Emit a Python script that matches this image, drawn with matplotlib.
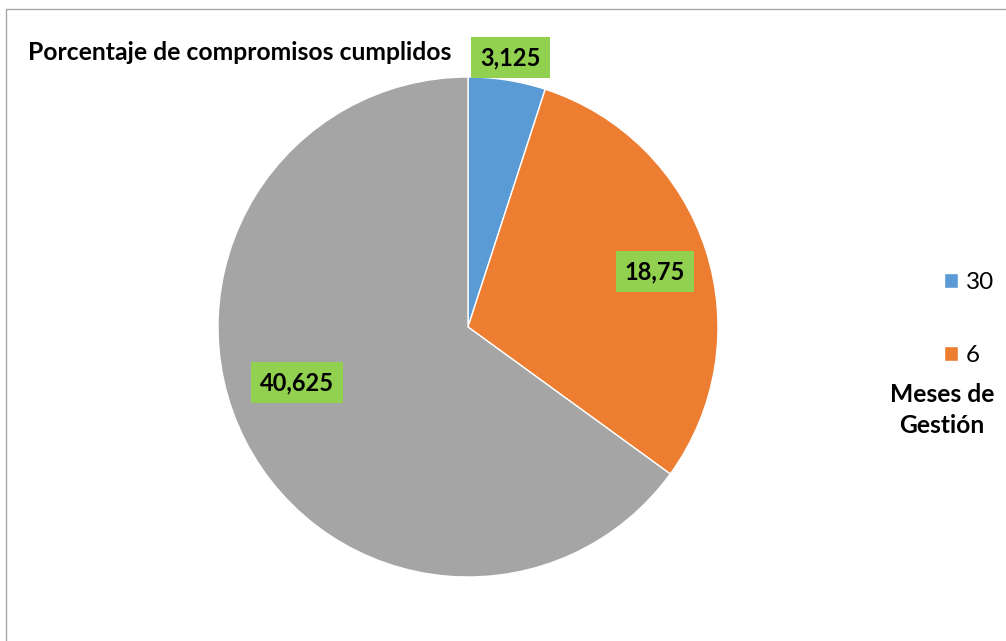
import numpy as np
import matplotlib.pyplot as plt
from matplotlib.patches import Rectangle

# data
values = [3.125, 18.75, 40.625]
value_labels = ["3,125", "18,75", "40,625"]
legend_labels = ["30", "6"]
colors = ["#5B9BD5", "#ED7D31", "#A5A5A5"]
# radial distance / angle shift for each data label (Excel "best fit")
label_r = [1.09, 0.78, 0.72]
label_shift = [0, -1.5, -9]

plt.rcParams['font.family'] = ['Lato', 'DejaVu Sans']

W, H = 1006, 641
fig = plt.figure(figsize=(W / 100, H / 100), dpi=100)

# chart area border
fig.patches.append(Rectangle((6 / W, -0.1), 1.2, (641 - 9) / H + 0.1,
                             transform=fig.transFigure, fill=False,
                             edgecolor="#a6a6a6", linewidth=1.0))

ax = fig.add_axes([218 / W, 64 / H, 500 / W, 500 / H])
wedges, _ = ax.pie(values, colors=colors, startangle=90, counterclock=False,
                   wedgeprops=dict(edgecolor="white", linewidth=1.0))
ax.set_aspect("equal")
ax.set_xlim(-1, 1)
ax.set_ylim(-1, 1)

for w, txt, r, sh in zip(wedges, value_labels, label_r, label_shift):
    ang = np.deg2rad((w.theta1 + w.theta2) / 2 + sh)
    ax.text(r * np.cos(ang), r * np.sin(ang), txt, ha="center", va="center",
            fontsize=17, fontweight="bold", color="black", clip_on=False,
            bbox=dict(boxstyle="square,pad=0.38", facecolor="#92D050", edgecolor="none"))

fig.text(28 / W, 1 - 53 / H, "Porcentaje de compromisos cumplidos",
         ha="left", va="center", fontsize=17.8, fontweight="bold")

# legend
leg = fig.legend(wedges[:2], legend_labels, loc="center left",
                 bbox_to_anchor=(922 / W, 1 - 319 / H), frameon=False,
                 fontsize=17.5, handlelength=0.6, handleheight=0.6,
                 handletextpad=0.3, labelspacing=2.15)
fig.text(942 / W, 1 - 410 / H, "Meses de\nGestión", ha="center", va="center",
         fontsize=17.7, fontweight="bold", linespacing=1.4)

fig.savefig("out.png", dpi=100)
